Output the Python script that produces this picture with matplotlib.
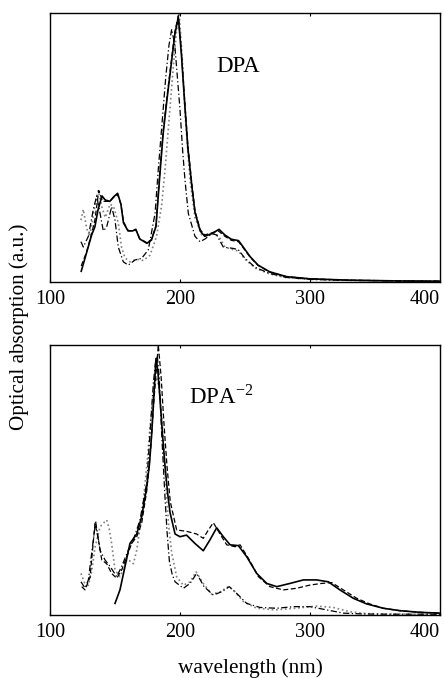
import matplotlib
matplotlib.use("Agg")
import matplotlib.pyplot as plt

plt.rcParams['font.family'] = ['Liberation Serif', 'DejaVu Serif']
plt.rcParams['mathtext.fontset'] = 'stix'

# ---- DPA (top panel) ----
top_solid_wl = [124, 128, 132, 134.5, 137, 140, 142.5, 146, 149, 152, 154.5, 156.5, 160, 163.5, 166, 169,
                174.5, 178, 181.5, 184.5, 187, 190, 193, 196, 198.7, 201, 203.8, 206, 209, 211.5, 215.5,
                219, 224.5, 230, 234.5, 239.5, 245, 248.5, 254, 260, 269, 282, 300, 330, 370, 400]
top_solid = [0.04, 0.107, 0.175, 0.205, 0.27, 0.32, 0.305, 0.30, 0.317, 0.33, 0.29, 0.22, 0.19, 0.19, 0.196, 0.16,
             0.144, 0.156, 0.206, 0.40, 0.55, 0.68, 0.80, 0.92, 0.985, 0.85, 0.65, 0.50, 0.36, 0.26, 0.19,
             0.17, 0.18, 0.196, 0.175, 0.159, 0.154, 0.131, 0.094, 0.063, 0.038, 0.02, 0.012, 0.007, 0.004, 0.003]

top_dash_wl = [124, 128, 131.5, 134.5, 137.5, 140.5, 143, 146, 149, 152, 154.5, 156.5, 160, 163.5, 166, 169,
               174.5, 178, 181.5, 184.5, 187, 190, 193, 196, 198.7, 201, 203.8, 206, 209, 211.5, 215.5,
               219, 224.5, 229.5, 234.5, 239.5, 245, 248.5, 254, 260, 269, 282, 300, 330, 370, 400]
top_dash = [0.06, 0.11, 0.17, 0.23, 0.34, 0.30, 0.30, 0.30, 0.315, 0.325, 0.29, 0.225, 0.192, 0.19, 0.194, 0.162,
            0.146, 0.158, 0.21, 0.41, 0.56, 0.69, 0.81, 0.93, 0.99, 0.86, 0.66, 0.51, 0.37, 0.265, 0.195,
            0.175, 0.183, 0.19, 0.17, 0.155, 0.15, 0.128, 0.092, 0.062, 0.037, 0.02, 0.012, 0.007, 0.004, 0.003]

top_dot_wl = [123.8, 125.6, 128.2, 130.5, 133, 135.5, 137.2, 139.8, 142.5, 146.2, 149, 152.5, 155, 157.7, 161.5,
              166.7, 171.8, 176.9, 182, 186, 188.5, 191.5, 194.5, 197, 199.3, 201.5, 204, 207.7, 211.5, 216.7,
              221.8, 226.9, 230.8, 234.6, 241, 245, 250, 257.7, 269, 282, 300, 330, 370, 400]
top_dot = [0.23, 0.27, 0.20, 0.17, 0.24, 0.31, 0.34, 0.28, 0.24, 0.29, 0.28, 0.22, 0.13, 0.09, 0.075,
           0.085, 0.08, 0.10, 0.17, 0.29, 0.42, 0.60, 0.78, 0.92, 1.0, 0.85, 0.62, 0.38, 0.24, 0.175,
           0.175, 0.183, 0.162, 0.13, 0.12, 0.115, 0.085, 0.052, 0.03, 0.016, 0.01, 0.006, 0.004, 0.003]

top_dd_wl = [123.8, 125.6, 129.5, 133.3, 135.9, 138.5, 141, 143.6, 147.4, 150, 152.5, 156.4, 160.2, 165.4, 170.5,
             175.6, 180.8, 183.3, 186, 189, 191.5, 193.6, 196, 198, 200, 202, 203.8, 206.4, 211.5, 215.4,
             219.2, 224.4, 228.2, 233.3, 241, 244.9, 250, 257.7, 269, 282, 300, 330, 370, 400]
top_dd = [0.15, 0.13, 0.17, 0.27, 0.32, 0.255, 0.19, 0.205, 0.28, 0.23, 0.13, 0.075, 0.063, 0.082, 0.088,
          0.12, 0.255, 0.42, 0.58, 0.76, 0.88, 0.94, 0.88, 0.76, 0.64, 0.49, 0.38, 0.255, 0.17, 0.15,
          0.16, 0.18, 0.175, 0.13, 0.125, 0.12, 0.088, 0.055, 0.032, 0.017, 0.01, 0.006, 0.004, 0.003]

# ---- DPA^-2 (bottom panel) ----
bot_solid_wl = [150, 153.8, 157.7, 161.5, 166.7, 170.5, 174.4, 176.5, 178.2, 180, 181.5, 183, 184.6, 186.5,
                188.5, 190.5, 192.3, 196.2, 200, 205, 211.5, 217.9, 223, 228.2, 233.3, 238.5, 244.9, 251.3,
                259, 266.7, 274.4, 284.6, 294.9, 305, 314.1, 323, 333.3, 343.6, 356.4, 369.2, 384.6, 400]
bot_solid = [0.043, 0.093, 0.18, 0.265, 0.30, 0.364, 0.475, 0.56, 0.67, 0.82, 0.95, 0.90, 0.80, 0.67,
             0.55, 0.45, 0.38, 0.30, 0.29, 0.296, 0.265, 0.238, 0.278, 0.323, 0.29, 0.26, 0.257, 0.216,
             0.154, 0.117, 0.105, 0.117, 0.13, 0.13, 0.123, 0.093, 0.062, 0.041, 0.025, 0.016, 0.01, 0.007]

bot_dash_wl = [124.4, 126.9, 130.8, 134.6, 137.2, 139.8, 143.6, 147.4, 151.3, 155.1, 159, 162.8, 166.7, 170.5,
               174.4, 177.5, 180, 183.3, 185.5, 187.5, 190, 192.5, 197.4, 205, 212.8, 217.9, 221.8, 225.6,
               230.8, 235.9, 242.3, 246.2, 252.6, 260.3, 269.2, 279.5, 289.7, 300, 309, 316.7, 325.6, 335.9,
               346, 356.4, 369.2, 384.6, 400]
bot_dash = [0.105, 0.093, 0.14, 0.34, 0.28, 0.204, 0.19, 0.154, 0.136, 0.167, 0.216, 0.265, 0.29, 0.34,
            0.46, 0.62, 0.80, 1.0, 0.88, 0.72, 0.55, 0.42, 0.315, 0.31, 0.30, 0.284, 0.315, 0.342,
            0.30, 0.26, 0.253, 0.26, 0.21, 0.142, 0.105, 0.093, 0.099, 0.111, 0.117, 0.12, 0.093, 0.062,
            0.041, 0.025, 0.016, 0.01, 0.007]

bot_dot_wl = [123.8, 126.5, 129.5, 132, 134.6, 138.5, 141, 143.6, 145.5, 147.4, 150, 153.8, 156.5, 159, 161.5,
              164.1, 166.7, 168.5, 170.5, 174.4, 177, 179, 180.5, 182, 184, 185.5, 187.2, 189.7, 191.5, 193.6,
              197.4, 202.6, 207.7, 212.3, 217.9, 224.4, 230.8, 237.2, 241, 248.7, 259, 273, 288.7, 305,
              317.9, 330.8, 343.6, 360, 380, 400]
bot_dot = [0.154, 0.12, 0.11, 0.16, 0.25, 0.327, 0.34, 0.352, 0.32, 0.265, 0.167, 0.142, 0.17, 0.204, 0.2,
           0.19, 0.24, 0.30, 0.364, 0.55, 0.70, 0.80, 0.86, 0.88, 0.84, 0.76, 0.65, 0.43, 0.32, 0.23,
           0.142, 0.11, 0.123, 0.16, 0.117, 0.077, 0.086, 0.105, 0.093, 0.05, 0.025, 0.019, 0.025, 0.033,
           0.028, 0.012, 0.005, 0.004, 0.003, 0.003]

bot_dd_wl = [123.8, 126.9, 129.5, 132, 135.1, 138.5, 142.3, 146.2, 151.3, 155.1, 160.2, 164.1, 169.2, 174.4,
             177, 179.5, 181, 182.5, 184, 185.9, 188.5, 190, 191.8, 194, 196.2, 202.6, 207.7, 212.8, 218.5,
             225.6, 232, 237.9, 243.6, 251.3, 261.5, 274.4, 287.2, 300, 312.8, 325.6, 340, 360, 380, 400]
bot_dd = [0.123, 0.1, 0.13, 0.228, 0.346, 0.24, 0.204, 0.18, 0.142, 0.18, 0.24, 0.278, 0.352, 0.49,
          0.68, 0.86, 0.93, 0.96, 0.88, 0.67, 0.43, 0.31, 0.2, 0.15, 0.123, 0.099, 0.117, 0.154, 0.105,
          0.074, 0.086, 0.105, 0.08, 0.043, 0.028, 0.025, 0.031, 0.031, 0.019, 0.007, 0.004, 0.003, 0.003, 0.003]

xticks = [100, 200, 300, 400]

fig = plt.figure(figsize=(4.45, 6.78), dpi=100)
ax1 = fig.add_axes([0.1124, 0.584, 0.8764, 0.3968])
ax2 = fig.add_axes([0.1124, 0.0929, 0.8764, 0.3982])


def draw(ax, solid, dash, dot, dd):
    ax.plot(dot[0], dot[1], color='#808080', ls=':', lw=1.2)
    ax.plot(dd[0], dd[1], color='black', ls=(0, (5, 2, 1, 2)), lw=0.9)
    ax.plot(dash[0], dash[1], color='black', ls=(0, (4, 2)), lw=0.9)
    ax.plot(solid[0], solid[1], color='black', ls='-', lw=1.2)
    ax.set_xlim(100, 400)
    ax.set_ylim(0, 1.0)
    ax.set_xticks(xticks)
    ax.set_yticks([])
    ax.tick_params(axis='x', direction='in', length=2.5, top=True, labelsize=14.5, pad=6)
    # last label sits flush with the right edge like in the original
    ax.get_xticklabels()[-1].set_horizontalalignment('right')
    for s in ax.spines.values():
        s.set_linewidth(1.0)


draw(ax1, (top_solid_wl, top_solid), (top_dash_wl, top_dash), (top_dot_wl, top_dot), (top_dd_wl, top_dd))
draw(ax2, (bot_solid_wl, bot_solid), (bot_dash_wl, bot_dash), (bot_dot_wl, bot_dot), (bot_dd_wl, bot_dd))

ax1.text(228, 0.78, 'DPA', fontsize=16.5)
ax2.text(207, 0.785, r'DPA$^{\mathregular{-2}}$', fontsize=16.5)

fig.text(0.044, 0.518, 'Optical absorption (a.u.)', rotation=90, ha='center', va='center', fontsize=15.2)
fig.text(0.5636, 0.015, 'wavelength (nm)', ha='center', va='center', fontsize=15.3)

fig.savefig('out.png', dpi=100)
